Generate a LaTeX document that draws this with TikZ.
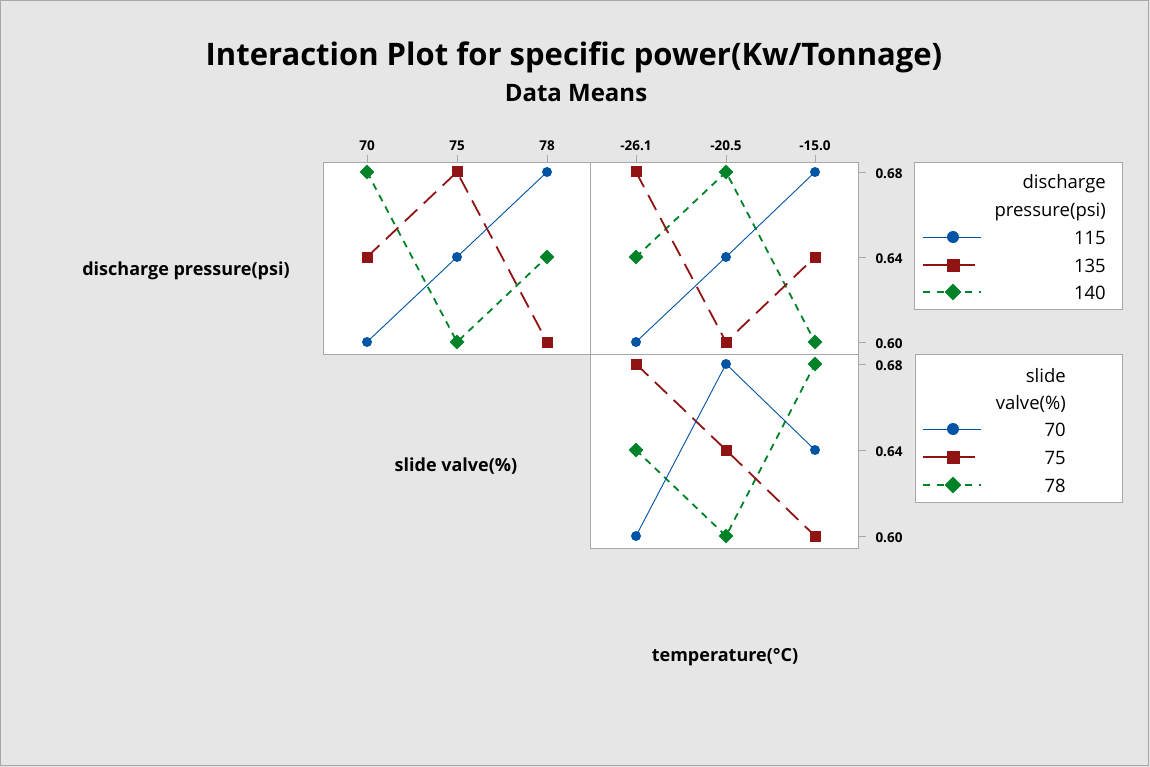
\documentclass[tikz,border=0pt]{standalone}
\usepackage{fontspec}
\setmainfont{Open Sans}
\usetikzlibrary{shapes.geometric}
\definecolor{bg}{HTML}{E6E6E6}
\definecolor{frame}{HTML}{A8A8A8}
\definecolor{sblue}{RGB}{0,84,166}
\definecolor{sred}{RGB}{145,20,20}
\definecolor{sgreen}{RGB}{0,130,40}
\tikzset{
  bline/.style={sblue, line width=0.9pt},
  rline/.style={sred, line width=1.8pt, dash pattern=on 17pt off 9pt},
  gline/.style={sgreen, line width=1.8pt, dash pattern=on 7pt off 6pt},
  bmark/.style={circle, fill=sblue, inner sep=0pt, minimum size=10pt},
  rmark/.style={rectangle, fill=sred, inner sep=0pt, minimum size=11pt},
  gmark/.style={diamond, fill=sgreen, inner sep=0pt, minimum size=15pt},
  lbmark/.style={circle, fill=sblue, inner sep=0pt, minimum size=12pt},
  lrmark/.style={rectangle, fill=sred, inner sep=0pt, minimum size=13pt},
  lgmark/.style={diamond, fill=sgreen, inner sep=0pt, minimum size=17pt},
  panel/.style={draw=frame, fill=white, line width=0.8pt},
  tick/.style={draw=frame, line width=0.8pt},
  ticklab/.style={font=\bfseries\fontsize{13.5}{16}\selectfont, inner sep=0pt},
  rowlab/.style={font=\bfseries\fontsize{18}{21}\selectfont, inner sep=0pt},
  legtxt/.style={font=\fontsize{18.5}{21}\selectfont, inner sep=0pt, anchor=east},
}
\begin{document}
\begin{tikzpicture}[x=1pt,y=-1pt]
\useasboundingbox (0,0) rectangle (1150,767);
\fill[bg] (0,0) rectangle (1150,767);
\draw[frame, line width=1pt] (0.5,0.5) rectangle (1148.5,765.5);

% titles
\node[font=\bfseries\fontsize{31}{36}\selectfont, inner sep=0pt] (title) at (574,57) {Interaction Plot for specific power(Kw/Tonnage)};
\node[font=\bfseries\fontsize{24}{28}\selectfont, inner sep=0pt] (sub) at (576,93) {Data Means};

% panels
\draw[panel] (323,162) rectangle (590,354);
\draw[panel] (590,162) rectangle (858,354);
\draw[panel] (590,354) rectangle (858,548);

% top ticks
\foreach \x/\l in {367/70,457/75,547/78,636/-26.1,726/-20.5,815/-15.0}{
  \draw[tick] (\x,155) -- (\x,162);
  \node[ticklab] at (\x,146) {\l};
}
% right ticks
\foreach \y/\l in {172/0.68,257/0.64,342/0.60,364/0.68,450/0.64,536/0.60}{
  \draw[tick] (858,\y) -- (866,\y);
  \node[ticklab] at (889,\y+2) {\l};
}

% row / column labels
\node[rowlab] (rl1) at (186,271) {discharge pressure(psi)};
\node[rowlab] (rl2) at (456,466) {slide valve(\%)};
\node[rowlab] (cl) at (725,657) {temperature(°C)};

% ---- panel 1 : slide valve on x, discharge pressure series
\coordinate (a1b) at (367,342); \coordinate (a2b) at (457,257); \coordinate (a3b) at (547,172);
\coordinate (a1r) at (367,257); \coordinate (a2r) at (457,172); \coordinate (a3r) at (547,342);
\coordinate (a1g) at (367,172); \coordinate (a2g) at (457,342); \coordinate (a3g) at (547,257);
% ---- panel 2 : temperature on x, discharge pressure series
\coordinate (b1b) at (636,342); \coordinate (b2b) at (726,257); \coordinate (b3b) at (815,172);
\coordinate (b1r) at (636,172); \coordinate (b2r) at (726,342); \coordinate (b3r) at (815,257);
\coordinate (b1g) at (636,257); \coordinate (b2g) at (726,172); \coordinate (b3g) at (815,342);
% ---- panel 3 : temperature on x, slide valve series
\coordinate (c1b) at (636,536); \coordinate (c2b) at (726,364); \coordinate (c3b) at (815,450);
\coordinate (c1r) at (636,364); \coordinate (c2r) at (726,450); \coordinate (c3r) at (815,536);
\coordinate (c1g) at (636,450); \coordinate (c2g) at (726,536); \coordinate (c3g) at (815,364);

\foreach \p in {a,b,c}{
  \draw[gline] (\p1g) -- (\p2g) -- (\p3g);
  \draw[rline] (\p1r) -- (\p2r) -- (\p3r);
  \draw[bline] (\p1b) -- (\p2b) -- (\p3b);
  \foreach \i in {1,2,3}{
    \node[gmark] (m\p\i g) at (\p\i g) {};
    \node[rmark] (m\p\i r) at (\p\i r) {};
    \node[bmark] (m\p\i b) at (\p\i b) {};
  }
}

% ---- legend 1
\draw[panel] (914,162) rectangle (1122,309);
\node[legtxt] (l1h1) at (1106,184) {discharge};
\node[legtxt] (l1h2) at (1106,212) {pressure(psi)};
\coordinate (l1bs) at (923,237); \coordinate (l1be) at (981,237);
\coordinate (l1rs) at (923,265); \coordinate (l1re) at (975,265);
\coordinate (l1gs) at (923,292); \coordinate (l1ge) at (981,292);
\draw[bline] (l1bs) -- (l1be);
\draw[sred, line width=1.5pt] (l1rs) -- (l1re);
\draw[gline, dash pattern=on 7pt off 7pt] (l1gs) -- (l1ge);
\node[lbmark] (l1b) at (953,237) {};
\node[lrmark] (l1r) at (953,265) {};
\node[lgmark] (l1g) at (953,292) {};
\node[legtxt] (l1t1) at (1106,238) {115};
\node[legtxt] (l1t2) at (1106,266) {135};
\node[legtxt] (l1t3) at (1106,293) {140};

% ---- legend 2
\draw[panel] (915,354) rectangle (1122,502);
\node[legtxt] (l2h1) at (1066,376) {slide};
\node[legtxt] (l2h2) at (1066,404) {valve(\%)};
\coordinate (l2bs) at (923,429); \coordinate (l2be) at (981,429);
\coordinate (l2rs) at (923,457); \coordinate (l2re) at (975,457);
\coordinate (l2gs) at (923,485); \coordinate (l2ge) at (981,485);
\draw[bline] (l2bs) -- (l2be);
\draw[sred, line width=1.5pt] (l2rs) -- (l2re);
\draw[gline, dash pattern=on 7pt off 7pt] (l2gs) -- (l2ge);
\node[lbmark] (l2b) at (953,429) {};
\node[lrmark] (l2r) at (953,457) {};
\node[lgmark] (l2g) at (953,485) {};
\node[legtxt] (l2t1) at (1066,430) {70};
\node[legtxt] (l2t2) at (1066,458) {75};
\node[legtxt] (l2t3) at (1066,486) {78};
\end{tikzpicture}
\end{document}
